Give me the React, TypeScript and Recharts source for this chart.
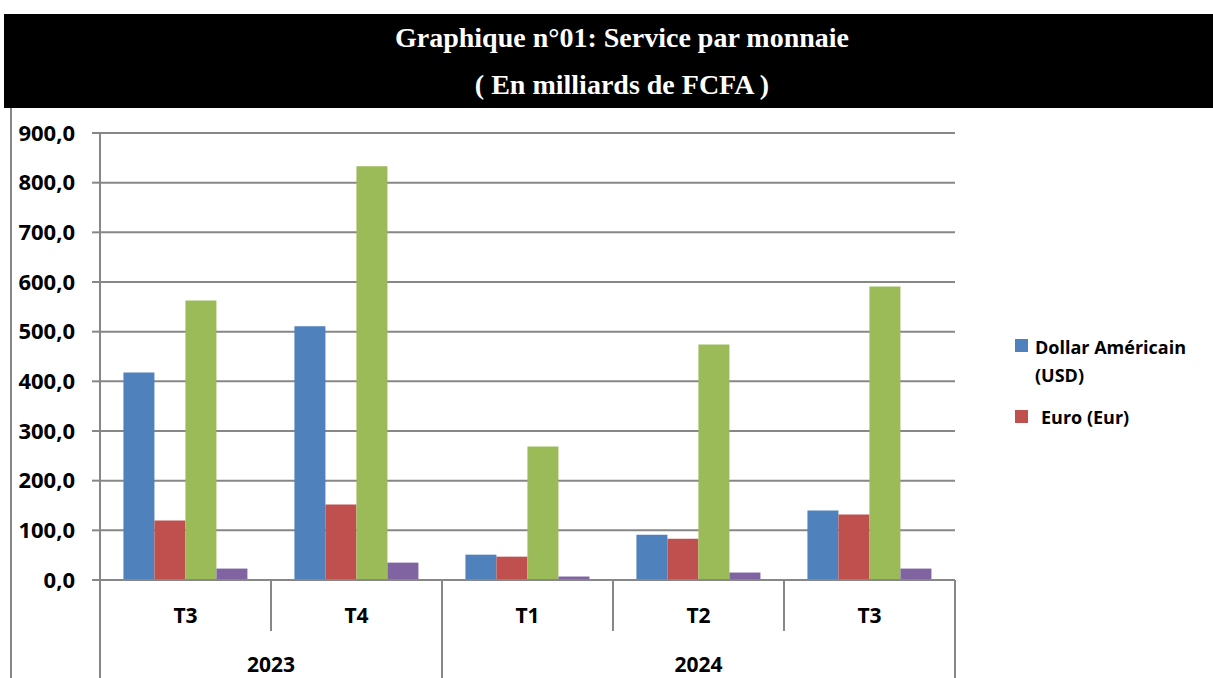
import React from 'react';
import { BarChart, Bar, XAxis, YAxis, CartesianGrid, Legend } from 'recharts';

const quarters = ['T3', 'T4', 'T1', 'T2', 'T3'];
const years = ['2023', '2023', '2024', '2024', '2024'];
const usd = [418, 511, 51, 91, 140];
const eur = [120, 152, 47, 83, 132];
const autres = [563, 833, 269, 474, 591];
const dts = [23, 35, 7, 15, 23];
const yTicks = [0, 100, 200, 300, 400, 500, 600, 700, 800, 900];

const seriesNames = ['Dollar Américain (USD)', 'Euro (Eur)', 'Autres devises', 'DTS'];
const colors = ['#4F81BD', '#C0504D', '#9BBB59', '#8064A2'];

const data = quarters.map((q, i) => ({
  key: `${years[i]}-${q}`,
  q,
  year: years[i],
  usd: usd[i],
  eur: eur[i],
  autres: autres[i],
  dts: dts[i],
}));

const W = 1213;
const H = 678;
const MARGIN = { top: 133, right: 258, bottom: 0, left: 10 };
const Y_WIDTH = 90;
const X_HEIGHT = 98;
const PLOT_W = W - MARGIN.left - MARGIN.right - Y_WIDTH;
const BAND = PLOT_W / data.length;
const GRAY = '#878787';
const FONT = '"Open Sans", "Noto Sans", sans-serif';

function QuarterTick(props: any) {
  const { x, y, payload, index } = props;
  const half = payload && payload.offset > 0 ? payload.offset : BAND / 2;
  const i = typeof index === 'number' ? index : 0;
  const d = data[i];
  const firstOfYear = i === 0 || data[i - 1].year !== d.year;
  let yearEl = null;
  if (firstOfYear) {
    let j = i;
    while (j + 1 < data.length && data[j + 1].year === d.year) j++;
    const cx = x + (j - i) * half;
    yearEl = (
      <text x={cx} y={y + 92} textAnchor="middle" fontSize={21} fontWeight={700} fill="#000" fontFamily={FONT}>
        {d.year}
      </text>
    );
  }
  const last = i === data.length - 1;
  return (
    <g>
      <line x1={x - half} x2={x - half} y1={y} y2={y + (firstOfYear ? 98 : 51)} stroke={GRAY} strokeWidth={2} />
      {last && <line x1={x + half} x2={x + half} y1={y} y2={y + 98} stroke={GRAY} strokeWidth={2} />}
      <text x={x} y={y + 43} textAnchor="middle" fontSize={21} fontWeight={700} fill="#000" fontFamily={FONT}>
        {d.q}
      </text>
      {yearEl}
    </g>
  );
}

function LegendContent() {
  return (
    <div style={{ position: 'relative', width: 200, height: 110, fontFamily: FONT, fontWeight: 700, fontSize: 18, color: '#000', lineHeight: '28px' }}>
      <div style={{ position: 'absolute', left: 5, top: 6, width: 13, height: 13, background: colors[0] }} />
      <div style={{ position: 'absolute', left: 25, top: 0, whiteSpace: 'nowrap' }}>
        Dollar Américain<br />(USD)
      </div>
      <div style={{ position: 'absolute', left: 5, top: 77, width: 13, height: 13, background: colors[1] }} />
      <div style={{ position: 'absolute', left: 31, top: 70, whiteSpace: 'nowrap' }}>{seriesNames[1]}</div>
    </div>
  );
}

export default function App() {
  const fmt = (v: number) => v.toFixed(1).replace('.', ',');
  return (
    <div style={{ position: 'absolute', left: 0, top: 0, width: W, height: H, overflow: 'hidden', background: '#fff' }}>
      <div style={{ position: 'absolute', left: 4, top: 14, width: W - 4, height: 94, background: '#000' }} />
      <div style={{ position: 'absolute', left: 622, top: 22, transform: 'translateX(-50%)', whiteSpace: 'nowrap', color: '#fff', fontFamily: '"Liberation Serif", "Times New Roman", serif', fontWeight: 700, fontSize: 28, lineHeight: '31px' }}>
        Graphique n°01: Service par monnaie
      </div>
      <div style={{ position: 'absolute', left: 622, top: 69, transform: 'translateX(-50%)', whiteSpace: 'nowrap', color: '#fff', fontFamily: '"Liberation Serif", "Times New Roman", serif', fontWeight: 700, fontSize: 28, lineHeight: '31px' }}>
        ( En milliards de FCFA )
      </div>
      <div style={{ position: 'absolute', left: 10, top: 108, width: 2, height: H - 108, background: GRAY }} />
      <div style={{ position: 'absolute', left: 0, top: 0 }}>
        <BarChart width={W} height={H} data={data} margin={MARGIN} barCategoryGap="13.7%" barGap={0}>
          <CartesianGrid vertical={false} stroke={GRAY} strokeWidth={2} />
          <XAxis
            dataKey="key"
            height={X_HEIGHT}
            tickLine={false}
            tickSize={0}
            tickMargin={0}
            axisLine={{ stroke: GRAY, strokeWidth: 2 }}
            tick={<QuarterTick />}
            interval={0}
          />
          <YAxis
            width={Y_WIDTH}
            domain={[0, 900]}
            ticks={yTicks}
            tickFormatter={fmt}
            tickSize={8}
            tickMargin={17}
            tickLine={{ stroke: GRAY, strokeWidth: 2 }}
            axisLine={{ stroke: GRAY, strokeWidth: 2 }}
            tick={{ fill: '#000', fontSize: 22, fontWeight: 700, fontFamily: FONT }}
            interval={0}
          />
          <Legend
            layout="horizontal"
            verticalAlign="middle"
            align="center"
            wrapperStyle={{ position: 'absolute', left: 1010, top: 333, width: 200, height: 110 }}
            content={<LegendContent />}
          />
          <Bar dataKey="usd" name={seriesNames[0]} fill={colors[0]} isAnimationActive={false} />
          <Bar dataKey="eur" name={seriesNames[1]} fill={colors[1]} isAnimationActive={false} />
          <Bar dataKey="autres" name={seriesNames[2]} fill={colors[2]} isAnimationActive={false} />
          <Bar dataKey="dts" name={seriesNames[3]} fill={colors[3]} isAnimationActive={false} />
        </BarChart>
      </div>
    </div>
  );
}
